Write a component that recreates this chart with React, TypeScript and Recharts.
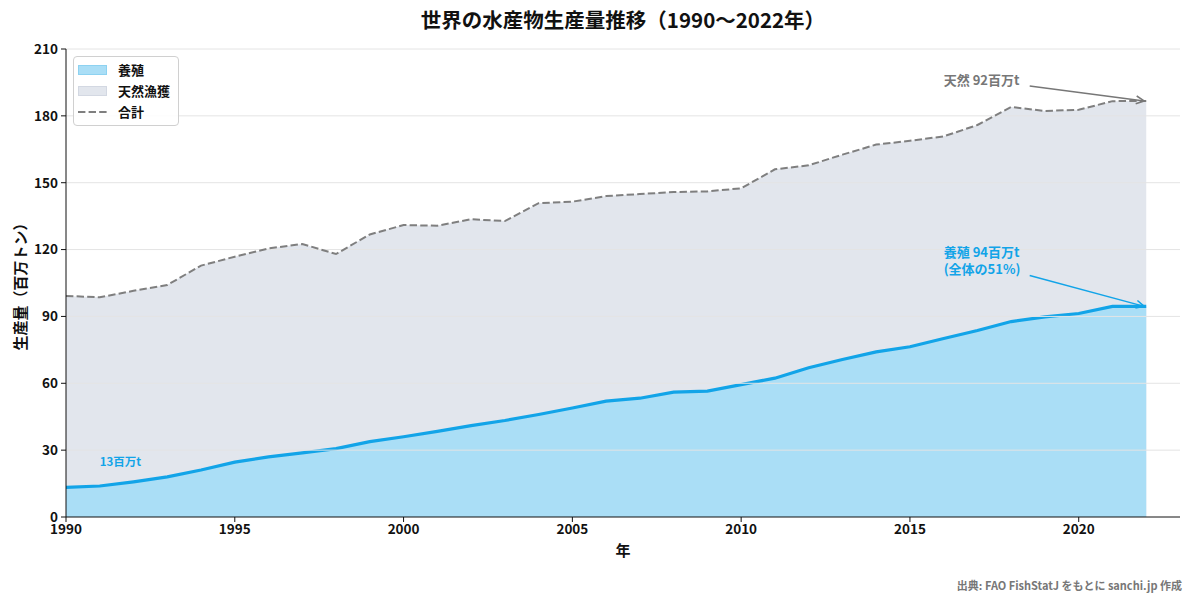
import {
  ComposedChart,
  Area,
  Line,
  XAxis,
  YAxis,
  ReferenceLine,
  ReferenceDot,
  Legend,
} from "recharts";

const years = [
  1990, 1991, 1992, 1993, 1994, 1995, 1996, 1997, 1998, 1999, 2000, 2001, 2002,
  2003, 2004, 2005, 2006, 2007, 2008, 2009, 2010, 2011, 2012, 2013, 2014, 2015,
  2016, 2017, 2018, 2019, 2020, 2021, 2022,
];

// 養殖 (百万トン)
const aquaculture = [
  13.3, 13.9, 15.8, 18.0, 21.1, 24.6, 27.0, 28.8, 30.7, 33.8, 36.0, 38.4, 41.0,
  43.3, 46.0, 48.9, 52.0, 53.3, 56.0, 56.5, 59.4, 62.3, 67.0, 70.7, 74.1, 76.4,
  80.1, 83.7, 87.7, 89.8, 91.3, 94.5, 94.5,
];

// 合計 (百万トン)
const total = [
  99.2, 98.6, 101.5, 104.1, 112.8, 116.8, 120.5, 122.5, 118.0, 126.8, 131.0,
  130.7, 133.6, 132.8, 140.8, 141.5, 144.0, 144.9, 145.8, 146.1, 147.5, 156.0,
  157.8, 162.6, 167.1, 168.8, 170.8, 175.9, 184.0, 182.2, 182.7, 186.6, 186.7,
];

const xTicks = [1990, 1995, 2000, 2005, 2010, 2015, 2020];
const yTicks = [0, 30, 60, 90, 120, 150, 180, 210];

const data = years.map((year, i) => ({
  year,
  aquaculture: aquaculture[i],
  total: total[i],
}));

const BLUE = "#12a4e8";
const BLUE_FILL = "#aadef6";
const GREY_FILL = "#e2e6ed";
const DASH = "#7f7f7f";
const FONT = '"Noto Sans CJK JP", "Noto Sans", sans-serif';

const legendItems = [
  { label: "養殖", kind: "patch", fill: BLUE_FILL, edge: "#8dd2f1" },
  { label: "天然漁獲", kind: "patch", fill: GREY_FILL, edge: "#d3d8e2" },
  { label: "合計", kind: "dash", fill: DASH, edge: DASH },
];

const renderLegend = () => (
  <div
    style={{
      border: "1px solid #d0d0d0",
      borderRadius: 4,
      background: "rgba(255,255,255,0.85)",
      padding: "2px 0 3px 4px",
      width: 106,
      boxSizing: "border-box",
      fontFamily: FONT,
      fontWeight: 700,
      fontSize: 13,
      color: "#111",
    }}
  >
    {legendItems.map((it) => (
      <div
        key={it.label}
        style={{ display: "flex", alignItems: "center", height: 21 }}
      >
        {it.kind === "patch" ? (
          <div
            style={{
              width: 29,
              height: 10,
              flexShrink: 0,
              background: it.fill,
              border: `1px solid ${it.edge}`,
              boxSizing: "border-box",
            }}
          />
        ) : (
          <svg width={29} height={10} style={{ flexShrink: 0 }}>
            <line
              x1={0}
              y1={5}
              x2={29}
              y2={5}
              stroke={it.fill}
              strokeWidth={2}
              strokeDasharray="7.4 3.2"
            />
          </svg>
        )}
        <span style={{ marginLeft: 11, whiteSpace: "nowrap" }}>{it.label}</span>
      </div>
    ))}
  </div>
);

// annotation arrow: text at segment start, arrow to segment end
const arrowShape =
  (lines: string[], color: string, dx: number, dy: number) => (props: any) => {
    const { x1, y1, x2, y2 } = props;
    if (x1 == null) return null;
    const sx = x1 + dx;
    const sy = y1 + dy;
    const ex = x2 - 2;
    const ey = y2;
    const ang = Math.atan2(ey - sy, ex - sx);
    const hl = 9;
    const hw = 0.45;
    const h1 = [ex - hl * Math.cos(ang - hw), ey - hl * Math.sin(ang - hw)];
    const h2 = [ex - hl * Math.cos(ang + hw), ey - hl * Math.sin(ang + hw)];
    const lh = 17;
    const top = y1 - ((lines.length - 1) * lh) / 2;
    return (
      <g>
        {lines.map((t, i) => (
          <text
            key={t}
            x={x1}
            y={top + i * lh}
            dominantBaseline="central"
            fill={color}
            fontFamily={FONT}
            fontWeight={700}
            fontSize={13}
          >
            {t}
          </text>
        ))}
        <line x1={sx} y1={sy} x2={ex} y2={ey} stroke={color} strokeWidth={1.5} />
        <polyline
          points={`${h1[0]},${h1[1]} ${ex},${ey} ${h2[0]},${h2[1]}`}
          fill="none"
          stroke={color}
          strokeWidth={1.5}
        />
      </g>
    );
  };

export default function App() {
  return (
    <div
      style={{
        position: "absolute",
        top: 0,
        left: 0,
        width: 1193,
        height: 602,
        background: "#fff",
        fontFamily: FONT,
      }}
    >
      <div
        style={{
          position: "absolute",
          top: 5,
          left: 66,
          width: 1114,
          textAlign: "center",
          fontSize: 20.5,
          fontWeight: 700,
          color: "#111",
          lineHeight: "28px",
        }}
      >
        世界の水産物生産量推移（1990〜2022年）
      </div>
      <ComposedChart
        width={1193}
        height={602}
        data={data}
        margin={{ top: 49, right: 13, bottom: 55, left: 8 }}
      >
        <XAxis
          dataKey="year"
          type="number"
          domain={[1990, 2023]}
          ticks={xTicks}
          allowDataOverflow
          tick={{ fontSize: 13.5, fill: "#111", fontWeight: 700, fontFamily: FONT }}
          tickLine={{ stroke: "#111" }}
          axisLine={{ stroke: "#111" }}
          tickSize={5}
          tickMargin={2}
          height={30}
          label={{
            value: "年",
            position: "bottom",
            offset: -2,
            fontSize: 15,
            fontWeight: 700,
            fill: "#111",
            fontFamily: FONT,
          }}
        />
        <YAxis
          type="number"
          domain={[0, 210]}
          ticks={yTicks}
          tick={{ fontSize: 13.5, fill: "#111", fontWeight: 700, fontFamily: FONT }}
          tickLine={{ stroke: "#111" }}
          axisLine={{ stroke: "#111" }}
          tickSize={5}
          tickMargin={3}
          width={58}
          label={({ viewBox }: any) => (
            <text
              x={19}
              y={viewBox.y + viewBox.height / 2}
              transform={`rotate(-90 19 ${viewBox.y + viewBox.height / 2})`}
              textAnchor="middle"
              dominantBaseline="central"
              fontSize={15}
              fontWeight={700}
              fill="#111"
              fontFamily={FONT}
            >
              生産量（百万トン）
            </text>
          )}
        />
        <Legend
          layout="horizontal"
          verticalAlign="middle"
          align="center"
          content={renderLegend}
          wrapperStyle={{ top: 56, left: 73, width: "auto", height: "auto" }}
        />
        <Area
          dataKey="total"
          name="天然漁獲"
          type="linear"
          fill={GREY_FILL}
          fillOpacity={1}
          stroke="none"
          isAnimationActive={false}
        />
        <Area
          dataKey="aquaculture"
          name="養殖"
          type="linear"
          fill={BLUE_FILL}
          fillOpacity={1}
          stroke={BLUE}
          strokeWidth={3.2}
          isAnimationActive={false}
        />
        {yTicks.slice(1).map((v) => (
          <ReferenceLine key={v} y={v} stroke="#e4e4e4" strokeWidth={1} />
        ))}
        <Line
          dataKey="total"
          name="合計"
          type="linear"
          stroke={DASH}
          strokeWidth={2}
          strokeDasharray="7.4 3.2"
          dot={false}
          activeDot={false}
          isAnimationActive={false}
        />
        <ReferenceLine
          segment={[
            { x: 2016, y: 196.5 },
            { x: 2022, y: 186.7 },
          ]}
          shape={arrowShape(["天然 92百万t"], "#777777", 86, 7)}
        />
        <ReferenceLine
          segment={[
            { x: 2016, y: 115.1 },
            { x: 2022, y: 94.5 },
          ]}
          shape={arrowShape(["養殖 94百万t", "(全体の51%)"], BLUE, 86, 15)}
        />
        <ReferenceDot
          x={1991}
          y={25}
          r={0}
          shape={(p: any) => (
            <text
              x={p.cx}
              y={p.cy}
              dominantBaseline="central"
              fill={BLUE}
              fontFamily={FONT}
              fontWeight={700}
              fontSize={11.5}
            >
              13百万t
            </text>
          )}
        />
      </ComposedChart>
      <div
        style={{
          position: "absolute",
          top: 577,
          right: 11,
          fontSize: 11,
          fontWeight: 700,
          color: "#777",
          lineHeight: "16px",
        }}
      >
        出典: FAO FishStatJ をもとに sanchi.jp 作成
      </div>
    </div>
  );
}
